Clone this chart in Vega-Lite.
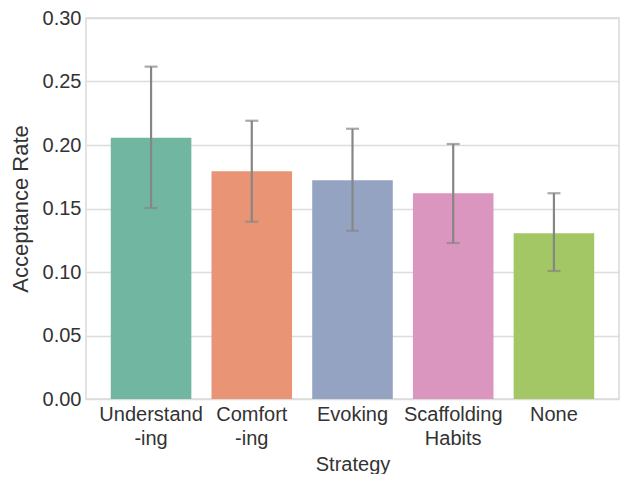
{
  "$schema": "https://vega.github.io/schema/vega-lite/v6.json",
  "width": 533,
  "height": 381,
  "padding": {"left": 9, "top": 8, "right": 3, "bottom": 0},
  "autosize": {"type": "pad"},
  "config": {
    "font": "Liberation Sans",
    "view": {"stroke": "#d9d9d9", "strokeWidth": 1.5},
    "axis": {
      "labelFont": "Liberation Sans",
      "titleFont": "Liberation Sans",
      "labelColor": "#333333",
      "titleColor": "#333333",
      "titleFontWeight": "normal",
      "domain": false,
      "ticks": false,
      "gridColor": "#dcdcdc",
      "gridWidth": 1.3
    }
  },
  "data": {
    "values": [
      {"strategy": "Understand\n-ing", "rate": 0.2057, "lo": 0.1504, "hi": 0.2617},
      {"strategy": "Comfort\n-ing", "rate": 0.1793, "lo": 0.1396, "hi": 0.2191},
      {"strategy": "Evoking", "rate": 0.1722, "lo": 0.1325, "hi": 0.2128},
      {"strategy": "Scaffolding\nHabits", "rate": 0.1620, "lo": 0.1228, "hi": 0.2008},
      {"strategy": "None", "rate": 0.1305, "lo": 0.1008, "hi": 0.1620}
    ]
  },
  "encoding": {
    "x": {
      "field": "strategy",
      "type": "nominal",
      "sort": null,
      "title": "Strategy",
      "scale": {"paddingInner": 0.2, "paddingOuter": 0.246},
      "axis": {
        "labelAngle": 0,
        "labelFontSize": 20,
        "labelExpr": "split(datum.label, '\\n')",
        "labelLineHeight": 24,
        "labelPadding": 5,
        "titleFontSize": 20,
        "titlePadding": 6,
        "grid": false
      }
    }
  },
  "layer": [
    {
      "mark": {"type": "bar"},
      "encoding": {
        "y": {
          "field": "rate",
          "type": "quantitative",
          "title": "Acceptance Rate",
          "scale": {"domain": [0, 0.3], "nice": false},
          "axis": {
            "values": [0, 0.05, 0.1, 0.15, 0.2, 0.25, 0.3],
            "format": ".2f",
            "labelFontSize": 20,
            "labelPadding": 5,
            "titleFontSize": 22,
            "titlePadding": 10
          }
        },
        "color": {
          "field": "strategy",
          "type": "nominal",
          "sort": null,
          "legend": null,
          "scale": {"range": ["#71b6a0", "#e99575", "#95a3c3", "#db96c0", "#a2c764"]}
        }
      }
    },
    {
      "mark": {"type": "rule", "color": "#868686", "strokeWidth": 2.2},
      "encoding": {
        "y": {"field": "lo", "type": "quantitative"},
        "y2": {"field": "hi"}
      }
    },
    {
      "mark": {"type": "tick", "color": "#868686", "thickness": 2.2, "size": 13, "orient": "horizontal"},
      "encoding": {"y": {"field": "lo", "type": "quantitative"}}
    },
    {
      "mark": {"type": "tick", "color": "#868686", "thickness": 2.2, "size": 13, "orient": "horizontal"},
      "encoding": {"y": {"field": "hi", "type": "quantitative"}}
    }
  ]
}
